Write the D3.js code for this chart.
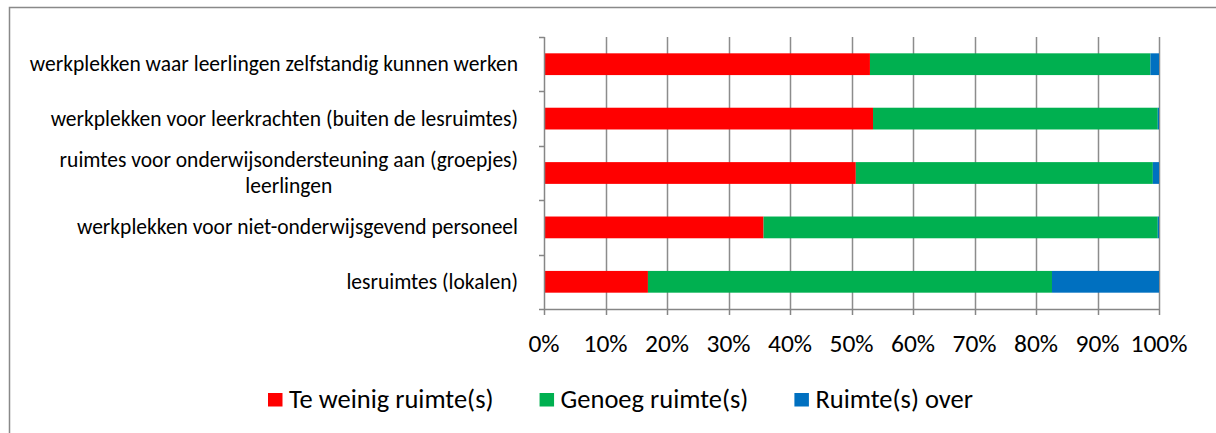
<!DOCTYPE html>
<html><head><meta charset="utf-8">
<script src="https://cdn.jsdelivr.net/npm/d3@7"></script>
<style>body{margin:0;background:#fff} svg{display:block}</style>
</head><body><svg id="c" width="1216" height="433"></svg>
<script>
const categories = [
  "werkplekken waar leerlingen zelfstandig kunnen werken",
  "werkplekken voor leerkrachten (buiten de lesruimtes)",
  "ruimtes voor onderwijsondersteuning aan (groepjes)\nleerlingen",
  "werkplekken voor niet-onderwijsgevend personeel",
  "lesruimtes (lokalen)"
];
const teWeinig = [53.0, 53.5, 50.7, 35.7, 16.9];
const genoeg   = [45.6, 46.3, 48.3, 64.1, 65.7];
const over     = [1.4, 0.2, 1.0, 0.2, 17.4];
const seriesNames = ["Te weinig ruimte(s)", "Genoeg ruimte(s)", "Ruimte(s) over"];
const seriesColors = ["#FF0000", "#00B050", "#0070C0"];
const xTicks = [0,10,20,30,40,50,60,70,80,90,100];

const FONT = "Carlito, Calibri, Lato, sans-serif";
const svg = d3.select("#c");

// outer border
svg.append("rect").attr("x",9.5).attr("y",7.5).attr("width",1300).attr("height",500)
  .attr("fill","none").attr("stroke","#898989").attr("stroke-width",1.5);

const x = d3.scaleLinear().domain([0,100]).range([544,1159]);
const y = d3.scaleBand().domain(categories).range([37,309]).paddingInner(0.6).paddingOuter(0.3);

// gridlines
svg.append("g").selectAll("line").data(xTicks.slice(1)).join("line")
  .attr("x1",d=>Math.round(x(d))+0.5).attr("x2",d=>Math.round(x(d))+0.5)
  .attr("y1",37).attr("y2",309)
  .attr("stroke","#8c8c8c").attr("stroke-width",1.5);

// stacked bars
const rows = categories.map((c,i)=>({cat:c, a:teWeinig[i], b:genoeg[i], c2:over[i]}));
const stack = d3.stack().keys(["a","b","c2"])(rows);
svg.append("g").selectAll("g").data(stack).join("g")
  .attr("fill",(d,i)=>seriesColors[i])
  .selectAll("rect").data(d=>d).join("rect")
  .attr("x",d=>x(d[0])).attr("width",d=>x(d[1])-x(d[0]))
  .attr("y",d=>y(d.data.cat)).attr("height",y.bandwidth());

// y axis line with ticks at band boundaries
const bounds = d3.range(categories.length+1).map(i=>37 + i*y.step());
const ax = svg.append("g").attr("stroke","#868686").attr("stroke-width",1.5);
ax.append("line").attr("x1",544.5).attr("x2",544.5).attr("y1",37).attr("y2",309);
ax.selectAll(".yt").data(bounds).join("line").attr("class","yt")
  .attr("x1",539).attr("x2",544.5).attr("y1",d=>Math.round(d)+0.5).attr("y2",d=>Math.round(d)+0.5);
// x axis
ax.append("line").attr("x1",544).attr("x2",1159).attr("y1",309.5).attr("y2",309.5);
ax.selectAll(".xt").data(xTicks).join("line").attr("class","xt")
  .attr("x1",d=>Math.round(x(d))+0.5).attr("x2",d=>Math.round(x(d))+0.5)
  .attr("y1",309).attr("y2",315);

// x tick labels
svg.append("g").selectAll("text").data(xTicks).join("text")
  .attr("x",d=>x(d)).attr("y",352).attr("text-anchor","middle")
  .attr("font-family",FONT).attr("font-size",25.5).attr("fill","#000")
  .text(d=>d+"%");

// category labels
const lab = svg.append("g").attr("font-family",FONT).attr("font-size",21.5).attr("fill","#000");
categories.forEach(c=>{
  const lines = c.split("\n");
  const cy = y(c) + y.bandwidth()/2;
  const lh = 26;
  const t = lab.append("text").attr("text-anchor","middle");
  lines.forEach((l,j)=>{
    t.append("tspan").attr("x",0).attr("y", cy + (j-(lines.length-1)/2)*lh + 7).text(l);
  });
  const bb = t.node().getBBox();
  t.attr("transform",`translate(${518 - bb.width/2},0)`);
});

// legend
const leg = svg.append("g").attr("font-family",FONT).attr("font-size",26.5);
let lx = 268;
seriesNames.forEach((n,i)=>{
  leg.append("rect").attr("x",lx).attr("y",393).attr("width",14.5).attr("height",13.5).attr("fill",seriesColors[i]);
  const t = leg.append("text").attr("x",lx+21).attr("y",408).text(n);
  lx = lx + 21 + t.node().getComputedTextLength() + 46;
});
</script></body></html>
